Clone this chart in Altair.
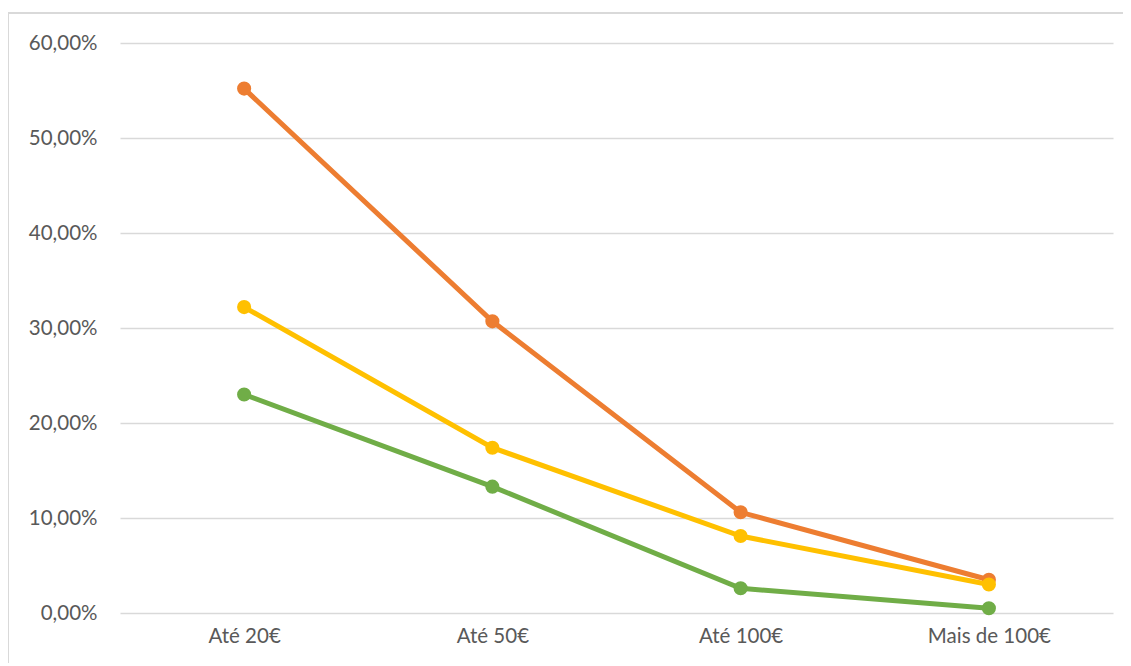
import altair as alt
import pandas as pd

categories = ["Até 20€", "Até 50€", "Até 100€", "Mais de 100€"]
series_names = ["Série A", "Série B", "Série C"]
orange_vals = [55.2, 30.7, 10.6, 3.5]
yellow_vals = [32.2, 17.4, 8.1, 3.0]
green_vals = [23.0, 13.3, 2.6, 0.5]
colors = ["#ED7D31", "#FFC000", "#70AD47"]
y_ticks = [0, 10, 20, 30, 40, 50, 60]

rows = []
for i, (name, vals) in enumerate(zip(series_names, [orange_vals, yellow_vals, green_vals])):
    for c, v in zip(categories, vals):
        rows.append({"cat": c, "series": name, "value": v, "order": i})
df = pd.DataFrame(rows)

FONT = "Lato"
TXT = "#595959"
GRID = "#D9D9D9"

x = alt.X("cat:N", sort=categories, title=None,
          scale=alt.Scale(type="point", padding=0.5),
          axis=alt.Axis(labelAngle=0, domain=False, ticks=False, grid=False,
                        labelFont=FONT, labelFontSize=20.5, labelColor=TXT,
                        labelPadding=13))
y = alt.Y("value:Q", title=None,
          scale=alt.Scale(domain=[0, 60], nice=False),
          axis=alt.Axis(values=y_ticks, domain=False, ticks=False, grid=True,
                        gridColor=GRID, gridWidth=1.5,
                        labelExpr="replace(format(datum.value, '.2f'), '.', ',') + '%'",
                        labelFont=FONT, labelFontSize=20.5, labelColor=TXT,
                        labelPadding=23))
color = alt.Color("series:N", scale=alt.Scale(domain=series_names, range=colors), legend=None)

layers = []
for name in series_names:
    sub = df[df["series"] == name]
    layers.append(
        alt.Chart(sub).mark_line(strokeWidth=5, point=alt.OverlayMarkDef(size=200, filled=True, opacity=1))
        .encode(x=x, y=y, color=color)
    )

frame_top = alt.Chart(df).mark_rule(color=GRID, strokeWidth=2).encode(
    x=alt.value(-112), x2=alt.value(1020), y=alt.value(-30))
frame_left = alt.Chart(df).mark_rule(color=GRID, strokeWidth=2).encode(
    x=alt.value(-112), y=alt.value(-30), y2=alt.value(700))

chart = alt.layer(frame_top, frame_left, *layers).properties(
    width=993, height=570,
    autosize=alt.AutoSizeParams(type="none"),
    padding={"left": 112, "top": 35, "right": 10, "bottom": 50},
).configure(background="white").configure_view(stroke=None)

chart.save("out.html", embed_options={"renderer": "svg", "actions": False})
